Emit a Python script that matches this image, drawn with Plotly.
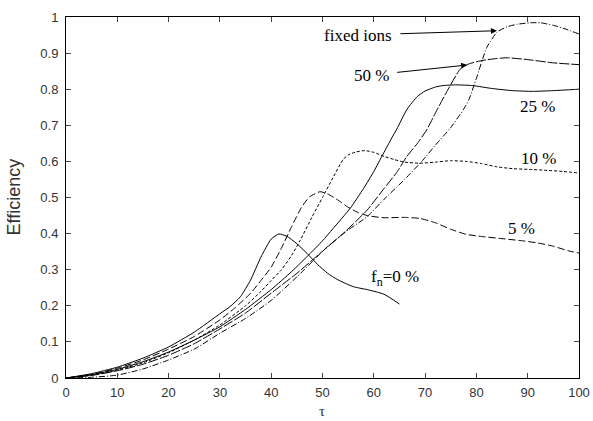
import plotly.graph_objects as go

# ---- data ----
x_f0 = [0, 5, 10, 15, 20, 25, 30, 32, 34, 36, 38, 40, 41.5, 43, 45, 47, 49, 51, 53, 56, 59, 62, 65]
y_f0 = [0, 0.012, 0.03, 0.055, 0.086, 0.127, 0.178, 0.198, 0.225, 0.272, 0.335, 0.385, 0.399, 0.393, 0.372, 0.345, 0.315, 0.29, 0.272, 0.253, 0.244, 0.232, 0.205]

x_f5 = [0, 5, 10, 15, 20, 25, 30, 33, 36, 38, 40, 42, 44, 46, 47.5, 49.5, 51, 53, 55, 57, 59, 62, 66, 69, 72, 75, 78, 81, 85, 89, 92, 95, 98, 100]
y_f5 = [0, 0.01, 0.027, 0.05, 0.08, 0.115, 0.161, 0.195, 0.235, 0.27, 0.307, 0.36, 0.42, 0.475, 0.502, 0.516, 0.51, 0.493, 0.473, 0.458, 0.449, 0.444, 0.445, 0.442, 0.43, 0.412, 0.398, 0.392, 0.386, 0.38, 0.374, 0.365, 0.352, 0.346]

x_f10 = [0, 5, 10, 15, 20, 25, 30, 35, 38, 40, 42, 44, 45.6, 48, 50, 52, 54, 55, 56.5, 58.3, 60, 62, 64, 66, 69, 72, 75, 78, 81, 84, 87, 90, 94, 97, 100]
y_f10 = [0, 0.008, 0.022, 0.042, 0.07, 0.105, 0.147, 0.2, 0.24, 0.27, 0.3, 0.34, 0.38, 0.447, 0.50, 0.554, 0.605, 0.618, 0.626, 0.63, 0.625, 0.614, 0.605, 0.598, 0.595, 0.598, 0.602, 0.60, 0.594, 0.585, 0.58, 0.578, 0.575, 0.572, 0.568]

x_f25 = [0, 5, 10, 15, 20, 25, 30, 35, 40, 44, 47.6, 50, 52, 55.4, 58, 60, 61.8, 63.5, 64.5, 66.5, 68.5, 70, 72, 73.5, 76, 79.3, 83, 87, 91, 95, 100]
y_f25 = [0, 0.009, 0.024, 0.045, 0.072, 0.105, 0.142, 0.19, 0.245, 0.295, 0.345, 0.38, 0.413, 0.47, 0.525, 0.572, 0.62, 0.665, 0.69, 0.745, 0.78, 0.795, 0.806, 0.81, 0.812, 0.81, 0.802, 0.796, 0.794, 0.796, 0.80]

x_f50 = [0, 5, 10, 15, 20, 25, 30, 35, 40, 45, 49.5, 54, 58.7, 62, 64.5, 66.4, 68.5, 70.3, 72.3, 74.5, 76.8, 78.5, 81.3, 84, 86, 90, 95, 100]
y_f50 = [0, 0.007, 0.02, 0.038, 0.063, 0.095, 0.136, 0.18, 0.235, 0.29, 0.345, 0.40, 0.465, 0.525, 0.57, 0.613, 0.65, 0.687, 0.742, 0.80, 0.855, 0.87, 0.88, 0.885, 0.887, 0.882, 0.873, 0.868]

x_fix = [0, 5, 10, 15, 20, 25, 30, 35, 40, 45, 50.9, 55, 58.7, 62, 66, 69.6, 72, 74.9, 77.4, 78.5, 80, 82, 84, 86, 88, 90.5, 92.5, 95, 97.5, 100]
y_fix = [0, 0.002, 0.008, 0.025, 0.05, 0.08, 0.124, 0.165, 0.215, 0.28, 0.363, 0.41, 0.447, 0.495, 0.55, 0.604, 0.645, 0.692, 0.742, 0.77, 0.83, 0.915, 0.958, 0.973, 0.98, 0.984, 0.984, 0.977, 0.966, 0.953]

x_ticks = [0, 10, 20, 30, 40, 50, 60, 70, 80, 90, 100]
y_ticks = [0, 0.1, 0.2, 0.3, 0.4, 0.5, 0.6, 0.7, 0.8, 0.9, 1]
y_ticklabels = ["0", "0.1", "0.2", "0.3", "0.4", "0.5", "0.6", "0.7", "0.8", "0.9", "1"]

series = [
    (x_f0, y_f0, "solid"),
    (x_f5, y_f5, "7px,3px"),
    (x_f10, y_f10, "3px,2px"),
    (x_f25, y_f25, "solid"),
    (x_f50, y_f50, "10px,2px"),
    (x_fix, y_fix, "6px,2px,1px,2px"),
]

fig = go.Figure()
for xs, ys, dash in series:
    fig.add_trace(go.Scatter(x=xs, y=ys, mode="lines",
                             line=dict(color="black", width=1, dash=dash, shape="spline", smoothing=0.5),
                             showlegend=False, hoverinfo="skip"))

serif = "Liberation Serif, Times New Roman, serif"
sans = "Liberation Sans, Arial, Helvetica, sans-serif"

# labels with arrows: (text, text x, text y, arrow tip x, arrow tip y)
arrow_labels = [
    ("fixed ions", 56.9, 0.95, 84.0, 0.962),
    ("50 %", 59.5, 0.839, 78.2, 0.867),
]
for txt, tx, ty, hx, hy in arrow_labels:
    fig.add_annotation(x=hx, y=hy, ax=tx, ay=ty, xref="x", yref="y", axref="x", ayref="y",
                       text=txt, showarrow=True, arrowhead=2, arrowsize=1.2, arrowwidth=1,
                       arrowcolor="black", borderpad=8,
                       font=dict(family=serif, size=17, color="black"))

labels = [
    ("25 %", 92.0, 0.751),
    ("10 %", 92.2, 0.609),
    ("5 %", 88.7, 0.415),
    ("f<sub>n</sub>=0 %", 64.1, 0.277),
]
for txt, lx, ly in labels:
    fig.add_annotation(x=lx, y=ly, xref="x", yref="y", text=txt, showarrow=False,
                       font=dict(family=serif, size=17, color="black"))

# axis titles
fig.add_annotation(x=-53 / 513, y=0.5, xref="paper", yref="paper", text="Efficiency",
                   textangle=-90, showarrow=False, xanchor="center", yanchor="middle",
                   font=dict(family=sans, size=18, color="#333333"))
fig.add_annotation(x=0.499, y=-43 / 361, xref="paper", yref="paper", yanchor="bottom",
                   text="τ", showarrow=False, font=dict(family=serif, size=15, color="#333333"))

fig.update_layout(
    width=593, height=421,
    margin=dict(l=66, r=14, t=17, b=43, autoexpand=False),
    paper_bgcolor="white", plot_bgcolor="white",
    font=dict(family=sans, size=13, color="#333333"),
)
fig.update_xaxes(range=[0, 100], tickvals=x_ticks, ticks="inside", ticklen=5, automargin=False,
                 ticklabelstandoff=2,
                 showline=True, linecolor="black", linewidth=1, mirror="allticks",
                 showgrid=False, zeroline=False, tickfont=dict(family=sans, size=13, color="#333333"))
fig.update_yaxes(range=[0, 1], tickvals=y_ticks, ticktext=y_ticklabels, ticks="inside", ticklen=5,
                 automargin=False, ticklabelstandoff=4,
                 showline=True, linecolor="black", linewidth=1, mirror="allticks",
                 showgrid=False, zeroline=False, tickfont=dict(family=sans, size=13, color="#333333"))

fig.write_html("out.html")
